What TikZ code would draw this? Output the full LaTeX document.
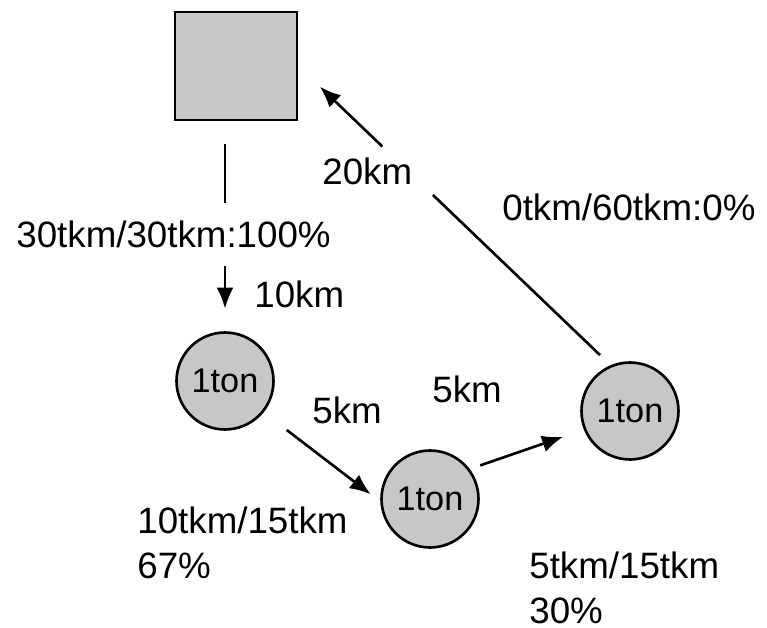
\documentclass[tikz,border=0pt]{standalone}
\usepackage{fontspec}
\setmainfont{Liberation Sans}
\usetikzlibrary{arrows.meta}
\begin{document}
\begin{tikzpicture}[x=0.02cm,y=-0.02cm,
  depotbox/.style={draw,line width=1.5pt,fill=black!22,minimum width=2.44cm,minimum height=2.16cm,inner sep=0pt},
  stop/.style={circle,draw,line width=1.5pt,fill=black!22,minimum size=1.94cm,inner sep=0pt,font=\fontsize{19.5}{22}\selectfont},
  lbl/.style={inner sep=0pt,anchor=base west,align=left,font=\fontsize{20.9}{25.6}\selectfont},
  link/.style={line width=1.5pt},
  arr/.style={line width=1.5pt,-{Latex[length=4.2mm,width=3.4mm]}}]
\useasboundingbox (0,0) rectangle (767,628);
% depot and the three stops
\node[depotbox] (depot) at (236,66) {};
\node[stop] (c1) at (225,381) {1ton};
\node[stop] (c2) at (430,499) {1ton};
\node[stop] (c3) at (630,411) {1ton};
% loads and distances (multi-line ones sit on their last baseline)
\node[lbl] (load0) at (16,248) {30tkm/30tkm:100\%};
\node[lbl] (d0) at (254,307) {10km};
\node[lbl] (d3) at (322,185) {20km};
\node[lbl] (load3) at (502,220) {0tkm/60tkm:0\%};
\node[lbl] (d1) at (312,423) {5km};
\node[lbl] (d2) at (432,402) {5km};
\node[lbl] (load1) at (137,578) {10tkm/15tkm\\67\%};
\node[lbl] (load2) at (529,623) {5tkm/15tkm\\30\%};
% route
\path (c3.113) -- coordinate[pos=0.65] (brk) (depot.east);
\draw[link,shorten <=0.46cm,shorten >=0.63cm] (c1 |- depot.south) -- (c1 |- load0);
\draw[arr,shorten <=0.62cm,shorten >=0.45cm] (c1 |- load0) -- (c1.north);
\draw[arr,shorten <=0.58cm,shorten >=0.24cm] (c1.-39) -- (c2.183);
\draw[arr,shorten <=0.22cm,shorten >=0.44cm] (c2.37) -- (c3.202);
\draw[link,shorten <=0.29cm,shorten >=0.7cm] (c3.113) -- (brk);
\draw[arr,shorten <=0.7cm,shorten >=0.6cm] (brk) -- (depot.east);
\end{tikzpicture}
\end{document}
